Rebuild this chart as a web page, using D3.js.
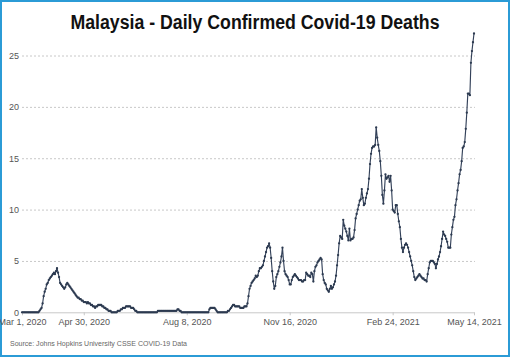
<!DOCTYPE html>
<html>
<head>
<meta charset="utf-8">
<script src="https://cdn.jsdelivr.net/npm/d3@7"></script>
<style>
  html, body { margin: 0; padding: 0; background: #fff; }
  svg { display: block; }
</style>
</head>
<body>
<svg id="chart" width="510" height="357"></svg>
<script>
const titleText = "Malaysia - Daily Confirmed Covid-19 Deaths";
const sourceText = "Source: Johns Hopkins University CSSE COVID-19 Data";
const startDate = "2020-03-01";
const xTickLabels = ["2020-03-01", "2020-04-30", "2020-08-08", "2020-11-16", "2021-02-24", "2021-05-14"];
const yTicks = [0, 5, 10, 15, 20, 25];
// 7-day average of daily deaths, one value per day from Mar 1, 2020
const deaths = [
  0,0,0,0,0,0,0,0,0,0,
  0,0,0,0,0,0,0,0.14,0.29,0.43,
  0.86,1.57,2.0,2.29,2.71,2.86,3.14,3.29,3.43,3.57,
  3.71,3.86,3.71,4.0,4.29,3.86,3.43,2.86,2.71,2.57,
  2.43,2.29,2.43,2.71,2.86,2.71,2.57,2.43,2.29,2.14,
  2.0,1.86,1.71,1.57,1.43,1.43,1.29,1.29,1.14,1.14,
  1.0,1.0,1.0,0.86,1.0,0.86,0.86,0.71,0.71,0.57,
  0.57,0.43,0.57,0.57,0.71,0.71,0.71,0.71,0.57,0.57,
  0.43,0.43,0.29,0.29,0.14,0.14,0.14,0,0,0,
  0,0,0,0.14,0.14,0.14,0.29,0.29,0.43,0.43,
  0.43,0.57,0.57,0.57,0.57,0.57,0.43,0.43,0.43,0.29,
  0.14,0.14,0,0,0,0,0,0,0,0,
  0,0,0,0,0,0,0,0,0,0,
  0,0,0.14,0.14,0.14,0.14,0.14,0.14,0.14,0.14,
  0.14,0.14,0.14,0.14,0.14,0.14,0.14,0.14,0.14,0.14,
  0.14,0.29,0.29,0.14,0.14,0,0,0,0,0,
  0,0,0,0,0,0,0,0,0,0,
  0,0,0,0,0,0,0,0,0,0,
  0,0,0.29,0.43,0.43,0.43,0.43,0.43,0.29,0.14,
  0,0,0,0,0,0,0,0,0,0,
  0.14,0.14,0.29,0.43,0.57,0.71,0.71,0.57,0.57,0.57,
  0.57,0.57,0.43,0.43,0.43,0.43,0.57,0.57,0.57,0.86,
  1.57,2.29,2.57,2.86,3.0,3.14,3.29,3.57,3.43,3.57,
  4.0,4.29,4.29,4.43,4.57,5.0,5.43,5.86,6.29,6.43,
  6.71,6.29,5.29,4.0,3.0,2.29,2.57,3.43,3.71,4.0,
  4.43,4.86,5.43,6.29,5.0,4.0,3.71,3.57,3.43,3.14,
  2.71,2.71,3.14,3.43,3.57,3.71,3.57,3.43,3.29,3.14,
  3.14,3.14,3.0,3.0,3.14,3.14,3.86,3.71,3.57,3.57,
  3.43,3.86,3.71,3.0,4.0,4.43,4.57,4.86,5.0,5.14,
  5.29,5.14,3.71,3.14,2.86,2.71,2.29,2.14,2.0,2.29,
  2.57,2.29,2.43,2.71,3.0,3.57,4.57,5.57,6.71,7.43,
  7.29,7.14,9.0,8.43,8.14,7.86,7.43,7.0,8.14,7.0,
  7.14,7.14,7.29,8.0,9.14,9.57,10.0,10.43,10.86,11.0,
  12.0,11.14,10.43,10.57,11.14,11.57,12.0,13.0,14.43,15.43,
  16.0,16.14,16.14,16.29,18.0,17.0,16.29,15.71,14.71,13.29,
  11.43,10.57,11.86,13.43,13.0,13.14,13.29,12.71,13.29,11.86,
  10.0,9.86,9.71,10.43,10.43,9.57,8.86,8.29,7.14,6.29,
  5.86,6.29,6.57,6.71,6.57,6.29,5.86,5.43,5.0,4.57,
  4.0,3.43,3.14,3.29,3.43,3.57,3.71,3.57,3.43,3.29,
  3.29,3.14,3.14,3.0,3.71,4.29,4.86,5.0,5.0,5.0,
  4.86,4.71,4.29,4.71,5.14,5.43,5.86,6.43,7.14,7.86,
  7.57,7.43,7.14,6.86,6.29,6.29,6.29,7.57,8.29,9.0,
  9.29,10.43,11.0,11.86,12.57,13.43,13.86,14.71,16.0,16.14,
  16.57,17.86,19.43,21.29,21.29,21.14,24.29,25.43,26.29,27.14
];

(function () {
const parse = d3.utcParse("%Y-%m-%d");
const start = parse(startDate);
const data = deaths.map((v, i) => ({ date: d3.utcDay.offset(start, i), value: v }));
const tickDates = xTickLabels.map(parse);

const svg = d3.select("#chart");
const W = 510, H = 357;
const mLeft = 22, mRight = 474, mTop = 55.5, mBottom = 312.3;

// frame
svg.append("rect").attr("x", 1).attr("y", 1).attr("width", W - 2).attr("height", H - 2)
  .attr("fill", "#fff").attr("stroke", "#2b9bd6").attr("stroke-width", 2);

const x = d3.scaleUtc().domain([tickDates[0], tickDates[tickDates.length - 1]]).range([mLeft, mRight]);
const y = d3.scaleLinear().domain([0, 25]).range([mBottom, mTop]);

// title
svg.append("text")
  .attr("x", W / 2).attr("y", 28.5)
  .attr("text-anchor", "middle")
  .attr("font-family", "'Liberation Sans Narrow','Arial Narrow','Liberation Sans',Arial,sans-serif")
  .attr("font-weight", "bold").attr("font-size", 20).attr("fill", "#111")
  .attr("textLength", 369).attr("lengthAdjust", "spacingAndGlyphs")
  .text(titleText);

// y grid + labels
const yAxis = d3.axisLeft(y).tickValues(yTicks).tickSize(-(mRight - mLeft + 1)).tickPadding(3);
const gy = svg.append("g").attr("transform", `translate(${mLeft},0)`).call(yAxis);
gy.select(".domain").remove();
gy.selectAll(".tick line")
  .attr("stroke", "#c8c8c8").attr("stroke-dasharray", "2,2").attr("stroke-width", 1)
  .filter(d => d === 0).remove();
gy.selectAll(".tick text")
  .attr("font-family", "'Liberation Sans',Arial,sans-serif").attr("font-size", 9)
  .attr("fill", "#555");

// x axis
const xAxis = d3.axisBottom(x).tickValues(tickDates).tickFormat(d3.utcFormat("%b %-d, %Y"))
  .tickSize(3).tickSizeOuter(0).tickPadding(3);
const gx = svg.append("g").attr("transform", `translate(0,${mBottom})`).call(xAxis);
gx.select(".domain").attr("stroke", "#c8c8c8");
gx.selectAll(".tick line").attr("stroke", "#c8c8c8");
gx.selectAll(".tick text")
  .attr("font-family", "'Liberation Sans',Arial,sans-serif").attr("font-size", 9)
  .attr("fill", "#555");

// line
const line = d3.line().x(d => x(d.date)).y(d => y(d.value));
svg.append("path").datum(data)
  .attr("d", line).attr("fill", "none")
  .attr("stroke", "#34425a").attr("stroke-width", 1.15).attr("stroke-linejoin", "round");
svg.append("g").selectAll("circle").data(data).join("circle")
  .attr("cx", d => x(d.date)).attr("cy", d => y(d.value)).attr("r", 1.15)
  .attr("fill", "#2c3a50");

// source
svg.append("text")
  .attr("x", 10).attr("y", 345.5)
  .attr("font-family", "'Liberation Sans',Arial,sans-serif").attr("font-size", 7)
  .attr("fill", "#666")
  .attr("textLength", 177).attr("lengthAdjust", "spacingAndGlyphs")
  .text(sourceText);
})();
</script>
</body>
</html>
